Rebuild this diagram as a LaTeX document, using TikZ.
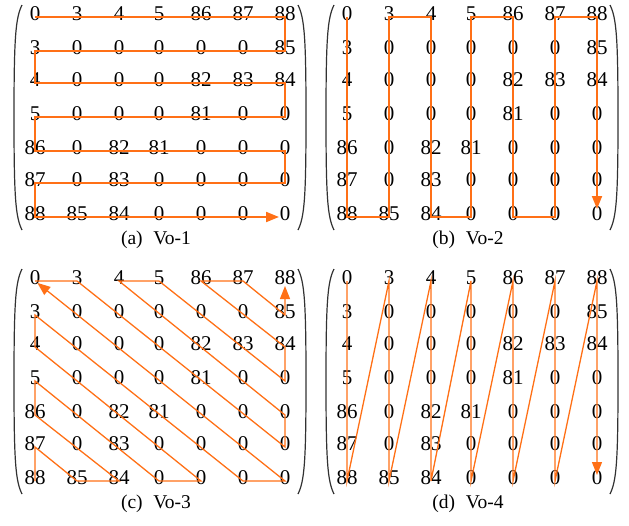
\documentclass[tikz,border=0pt]{standalone}
\usepackage{fontspec}
\setmainfont{Liberation Serif}
\usetikzlibrary{arrows.meta}
\definecolor{lineor}{RGB}{255,112,22}
\definecolor{parcol}{RGB}{50,50,50}
\tikzset{
  numtext/.style={inner sep=0pt, font=\fontsize{21}{21}\selectfont, text height=0.66em, text depth=0pt},
  captext/.style={inner sep=0pt, font=\fontsize{19.5}{19.5}\selectfont},
  parenline/.style={draw=parcol, line width=1.2pt},
  zigline/.style={draw=lineor, line join=miter},
  arrowend/.style={-{Triangle[length=13pt,width=10pt]}, shorten >=#1},
}
\newcommand\mpanel[4]{%
  \begin{scope}[shift={(#2,#3)}]
    \foreach \rowlist [count=\r] in {{0,3,4,5,86,87,88},{3,0,0,0,0,0,85},{4,0,0,0,82,83,84},{5,0,0,0,81,0,0},{86,0,82,81,0,0,0},{87,0,83,0,0,0,0},{88,85,84,0,0,0,0}}{
      \foreach \v [count=\c] in \rowlist {
        \pgfmathsetmacro\xx{{35,77,119,159,201,243,285}[\c-1]}
        \pgfmathsetmacro\yy{{17,51,83,117,151,183,217}[\r-1]}
        \node[numtext] (#1\r\c) at (\xx,\yy) {\v};
      }
    }
    \draw[parenline] (22,5) .. controls (15.5,18) and (14,38) .. (14,117.5) .. controls (14,197) and (15.5,217) .. (22,230);
    \draw[parenline] (298,5) .. controls (304.5,18) and (306,38) .. (306,117.5) .. controls (306,197) and (304.5,217) .. (298,230);
    \node[captext] (#1cap) at (156,240) {#4};
  \end{scope}}
\begin{document}
\begin{tikzpicture}[x=1pt,y=-1pt]
\useasboundingbox (0,0) rectangle (629,525);
\mpanel{a}{0}{0}{(a)\hspace{0.55em}Vo-1}
\mpanel{b}{312}{0}{(b)\hspace{0.55em}Vo-2}
\mpanel{c}{0}{264}{(c)\hspace{0.55em}Vo-3}
\mpanel{d}{312}{264}{(d)\hspace{0.55em}Vo-4}
% (a) row snake
\draw[zigline, line width=2pt, arrowend=6pt] (a11.center) -- (a17.center) -- (a27.center) -- (a21.center) -- (a31.center) -- (a37.center) -- (a47.center) -- (a41.center) -- (a51.center) -- (a57.center) -- (a67.center) -- (a61.center) -- (a71.center) -- (a77.center);
% (b) column snake
\draw[zigline, line width=1.8pt, arrowend=8pt] (b11.center) -- (b71.center) -- (b72.center) -- (b12.center) -- (b13.center) -- (b73.center) -- (b74.center) -- (b14.center) -- (b15.center) -- (b75.center) -- (b76.center) -- (b16.center) -- (b17.center) -- (b77.center);
% (c) diagonal scan
\draw[zigline, line width=1.3pt, arrowend=3pt] (c71.center) -- (c61.center) -- (c72.center) -- (c73.center) -- (c51.center) -- (c41.center) -- (c74.center) -- (c75.center) -- (c31.center) -- (c21.center) -- (c76.center) -- (c77.center) -- (c11.center);
\draw[zigline, line width=1.3pt, arrowend=5pt] (c11.center) -- (c12.center) -- (c67.center) -- (c57.center) -- (c13.center) -- (c14.center) -- (c47.center) -- (c37.center) -- (c15.center) -- (c16.center) -- (c27.center) -- (c17.center);
% (d) column saw
\draw[zigline, line width=1.3pt, arrowend=6pt] (d11.center) -- (d71.center) -- (d12.center) -- (d72.center) -- (d13.center) -- (d73.center) -- (d14.center) -- (d74.center) -- (d15.center) -- (d75.center) -- (d16.center) -- (d76.center) -- (d17.center) -- (d77.center);
\end{tikzpicture}
\end{document}
